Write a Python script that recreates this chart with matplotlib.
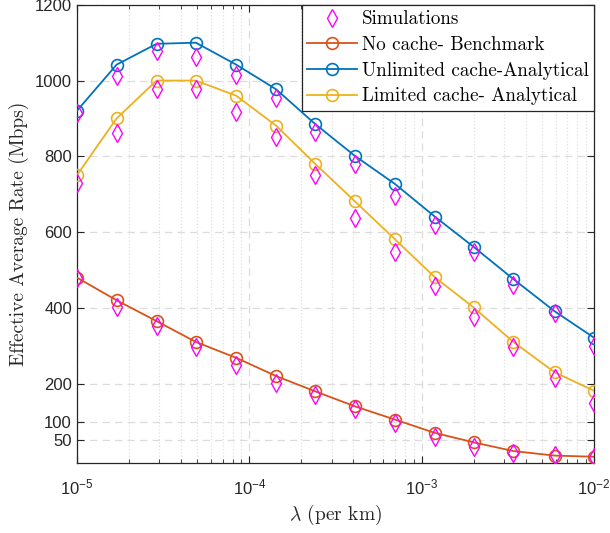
import matplotlib
matplotlib.use("Agg")
import matplotlib.pyplot as plt
from matplotlib.ticker import LogLocator, NullFormatter, FixedLocator

# lambda values (per km)
lam = [1e-5, 1.7e-5, 2.9e-5, 4.9e-5, 8.4e-5, 1.43e-4, 2.4e-4, 4.1e-4,
       7.0e-4, 1.19e-3, 2.0e-3, 3.4e-3, 5.9e-3, 1e-2]

no_cache = [480, 420, 365, 310, 268, 220, 180, 140, 105, 70, 45, 22, 10, 7]
unlimited = [920, 1042, 1097, 1100, 1042, 977, 886, 801, 727, 641, 561, 476, 391, 321]
limited = [750, 900, 1000, 1000, 960, 881, 781, 681, 581, 481, 401, 310, 230, 181]

sim_no_cache = [480, 401, 353, 297, 249, 202, 170, 134, 95, 59, 33, 17, 11, 6]
sim_unlimited = [915, 1013, 1079, 1063, 1015, 954, 865, 779, 695, 618, 548, 461, 386, 299]
sim_limited = [730, 861, 979, 977, 917, 852, 750, 638, 548, 458, 377, 296, 216, 150]

yticks = [50, 100, 200, 400, 600, 800, 1000, 1200]

plt.rcParams['mathtext.fontset'] = 'custom'
plt.rcParams['mathtext.rm'] = 'Liberation Sans'
plt.rcParams['mathtext.it'] = 'Liberation Sans:italic'
plt.rcParams['font.family'] = 'Liberation Sans'

fig = plt.figure(figsize=(6.1, 5.33), dpi=100)
ax = fig.add_axes([0.126, 0.131, 0.848, 0.86])

c_orange = '#D95319'
c_blue = '#0072BD'
c_yellow = '#EDB120'
c_mag = '#FF00FF'

sim_kw = dict(linestyle='none', marker='d', markersize=9, markerfacecolor='none',
              markeredgecolor=c_mag, markeredgewidth=1.0, zorder=4)
ax.plot(lam, sim_unlimited, label='Simulations', **sim_kw)
ax.plot(lam, sim_limited, **sim_kw)
ax.plot(lam, sim_no_cache, **sim_kw)

line_kw = dict(marker='o', markersize=8.5, markerfacecolor='none', linewidth=1.3,
               markeredgewidth=1.2, zorder=3)
ax.plot(lam, no_cache, color=c_orange, label='No cache- Benchmark', **line_kw)
ax.plot(lam, unlimited, color=c_blue, label='Unlimited cache-Analytical', **line_kw)
ax.plot(lam, limited, color=c_yellow, label='Limited cache- Analytical', **line_kw)

ax.set_xscale('log')
ax.set_xlim(1e-5, 1e-2)
ax.set_ylim(-10, 1200)
ax.yaxis.set_major_locator(FixedLocator(yticks))
ax.xaxis.set_major_locator(LogLocator(base=10, numticks=10))
ax.xaxis.set_minor_locator(LogLocator(base=10, subs=range(2, 10), numticks=20))
ax.xaxis.set_minor_formatter(NullFormatter())

ax.grid(True, which='major', linestyle=(0, (6, 4)), color='#dcdcdc', linewidth=0.9)
ax.grid(True, which='minor', axis='x', linestyle=':', color='#e0e0e0', linewidth=0.9)
ax.set_axisbelow(True)

ax.tick_params(which='both', direction='in', top=True, right=True, labelsize=12,
               colors='#262626')
ax.tick_params(which='major', length=5)
ax.tick_params(which='minor', length=3)
ax.tick_params(axis='x', pad=10)
for s in ax.spines.values():
    s.set_color('#262626')
    s.set_linewidth(0.9)

ax.set_xlabel(r'$\lambda$ (per km)', family='cmr10', math_fontfamily='cm',
              fontsize=14, color='#262626')
ax.set_ylabel('Effective Average Rate (Mbps)', family='cmr10', fontsize=14,
              color='#262626')

leg = ax.legend(loc='upper right', prop={'family': 'cmr10', 'size': 13.7},
                fancybox=False, framealpha=1, edgecolor='#262626',
                borderaxespad=0, handlelength=2.6, handletextpad=0.25,
                labelspacing=0.4, borderpad=0.3)
leg.get_frame().set_linewidth(0.9)

fig.savefig('out.png', dpi=100)
